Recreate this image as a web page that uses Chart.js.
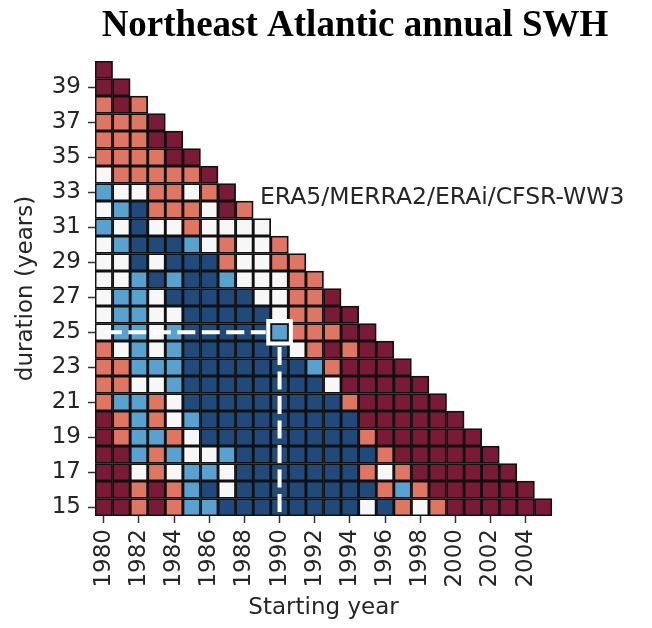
<!DOCTYPE html>
<html>
<head>
<meta charset="utf-8">
<script src="https://cdn.jsdelivr.net/npm/chart.js@4.4.1/dist/chart.umd.min.js"></script>
<style>
  html, body { margin: 0; padding: 0; background: #fff; }
  #wrap { width: 652px; height: 628px; }
</style>
</head>
<body>
<div id="wrap"><canvas id="swh-chart" width="652" height="628"></canvas></div>
<script>
// starting years on x, durations on y
const startYears = ['1980', '1981', '1982', '1983', '1984', '1985', '1986', '1987', '1988', '1989',
    '1990', '1991', '1992', '1993', '1994', '1995', '1996', '1997', '1998', '1999',
    '2000', '2001', '2002', '2003', '2004', '2005'];
const durations = [40, 39, 38, 37, 36, 35, 34, 33, 32, 31, 30, 29, 28, 27, 26, 25, 24, 23, 22, 21, 20, 19, 18, 17, 16, 15];
const durationTicks = [15, 17, 19, 21, 23, 25, 27, 29, 31, 33, 35, 37, 39];

// one string per duration, one letter per starting year (from 1980)
// R dark red, S salmon, W white, L light blue, B dark blue
const cellClasses = [
    'R',
    'RR',
    'SRS',
    'SSSR',
    'SSSRR',
    'SSSSRR',
    'WSSSSSR',
    'LWWSSWSR',
    'WLBSSSWRS',
    'LWBWWSWWWW',
    'WLBBBLWSWWS',
    'WWBWBBBSWWSS',
    'WWLBLBBLWWWSS',
    'WLLWBBBBBWWSSR',
    'WLLWWBBBBBWSSRR',
    'WLLWLBBBBBLSSSRR',
    'SWLWLBBBBBBWSRSRR',
    'SSLLLBBBBBBBLSRRRR',
    'SSWWLBBBBBBBBWRRRRR',
    'SLLSWBBBBBBBBBSRRRRR',
    'RSLSWLBBBBBBBBBRRRRRR',
    'RSLLSWBBBBBBBBBSRRRRRR',
    'RRLSLWWLBBBBBBBBSRRRRRR',
    'RRWSWLLWBBBBBBBSWSRRRRRR',
    'RRSRSLBWBBBBBBBBSLSRRRRRR',
    'RRSRSLLBBBBBBBBWBSWSRRRRRR'
];

const highlightYear = '1990';
const highlightDuration = 25;

const palette = {
    R: '#7a1a36',
    S: '#e07562',
    W: '#f7f7f7',
    L: '#58a2d2',
    B: '#1f4a7b'
};

const datasets = durations.map((d, row) => {
    const codes = cellClasses[row];
    return {
        label: `${d} years`,
        data: startYears.map((y, i) => i < codes.length ? [d - 0.5, d + 0.5] : null),
        backgroundColor: startYears.map((y, i) => i < codes.length ? palette[codes[i]] : 'rgba(0,0,0,0)'),
        borderColor: '#111111',
        borderWidth: 1.8,
        borderSkipped: false,
        barPercentage: 1,
        categoryPercentage: 1,
        grouped: false
    };
});

const textColor = '#262626';
const tickFont = { family: 'DejaVu Sans', size: 23 };

const overlayPlugin = {
    id: 'overlay',
    afterDatasetsDraw(chart) {
        const ctx = chart.ctx;
        const xs = chart.scales.x;
        const ys = chart.scales.y;
        const col = startYears.indexOf(highlightYear);
        const cx = xs.getPixelForValue(col);
        const cy = ys.getPixelForValue(highlightDuration);
        const cellW = xs.getPixelForValue(1) - xs.getPixelForValue(0);
        const cellH = ys.getPixelForValue(highlightDuration - 1) - cy;

        ctx.save();
        ctx.strokeStyle = '#ffffff';
        ctx.lineWidth = 4;
        ctx.setLineDash([18, 6.5]);
        ctx.beginPath();
        ctx.moveTo(xs.getPixelForValue(0), cy);
        ctx.lineTo(cx - cellW / 2 - 5, cy);
        ctx.stroke();
        ctx.beginPath();
        ctx.moveTo(cx, cy + cellH / 2 + 6);
        ctx.lineTo(cx, chart.chartArea.bottom);
        ctx.stroke();
        ctx.setLineDash([]);
        ctx.strokeRect(cx - cellW / 2 - 2.5, cy - cellH / 2 - 2.5, cellW + 5, cellH + 5);
        ctx.restore();
    },
    afterDraw(chart) {
        const ctx = chart.ctx;
        ctx.save();
        ctx.fillStyle = '#000';
        ctx.font = 'bold 37px "Liberation Serif"';
        ctx.textAlign = 'center';
        ctx.textBaseline = 'alphabetic';
        ctx.fillText('Northeast Atlantic annual SWH', 355, 36);

        ctx.fillStyle = textColor;
        ctx.font = '23.5px "DejaVu Sans"';
        ctx.textAlign = 'left';
        ctx.fillText('ERA5/MERRA2/ERAi/CFSR-WW3', 260, 204);
        ctx.restore();
    }
};

new Chart(document.getElementById('swh-chart').getContext('2d'), {
    type: 'bar',
    data: {
        labels: startYears,
        datasets: datasets
    },
    options: {
        responsive: false,
        animation: false,
        events: [],
        layout: {
            padding: { left: 0, right: 100, top: 61, bottom: 0 }
        },
        scales: {
            x: {
                type: 'category',
                offset: true,
                grid: {
                    display: true,
                    drawOnChartArea: false,
                    drawTicks: true,
                    tickLength: 7,
                    tickWidth: 1.5,
                    tickColor: '#333',
                    offset: false
                },
                border: { display: false },
                ticks: {
                    autoSkip: false,
                    maxRotation: 90,
                    minRotation: 90,
                    padding: 6,
                    color: textColor,
                    font: tickFont,
                    callback: (value, index) => index % 2 === 0 ? startYears[index] : null
                },
                title: {
                    display: true,
                    text: 'Starting year',
                    color: textColor,
                    font: tickFont,
                    padding: { top: 0, bottom: 6 }
                },
                afterFit: (axis) => { axis.height = 112; }
            },
            y: {
                type: 'linear',
                min: 14.5,
                max: 40.5,
                afterBuildTicks: (axis) => {
                    axis.ticks = durationTicks.map(v => ({ value: v }));
                },
                grid: {
                    display: true,
                    drawOnChartArea: false,
                    drawTicks: true,
                    tickLength: 7,
                    tickWidth: 1.5,
                    tickColor: '#333'
                },
                border: { display: false },
                ticks: {
                    padding: 7,
                    color: textColor,
                    font: tickFont
                },
                title: {
                    display: true,
                    text: 'duration (years)',
                    color: textColor,
                    font: tickFont,
                    padding: { top: 12, bottom: 0 }
                },
                afterFit: (axis) => { axis.width = 95; }
            }
        },
        plugins: {
            legend: { display: false },
            tooltip: { enabled: false },
            title: { display: false }
        }
    },
    plugins: [overlayPlugin]
});
</script>
</body>
</html>
